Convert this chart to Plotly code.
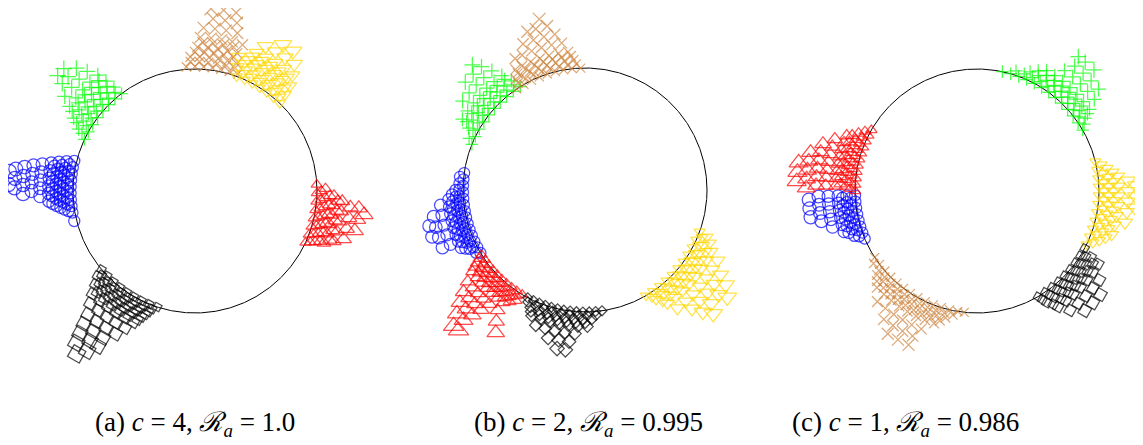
import numpy as np
import plotly.graph_objects as go

# ---------------- data: each cluster = rows of (norm r, [angles in degrees]) ----------------
# Panel (a)
A_BLUE = [(1.02, [166, 169, 172, 175, 178, 181, 184, 187, 190, 194]),
          (1.05, [168, 171, 174, 177, 180, 183, 186, 189]),
          (1.08, [167, 170, 173, 176, 179, 182, 185, 188]),
          (1.11, [169, 172, 175, 178, 181, 184, 187]),
          (1.14, [168, 171, 174, 177, 180, 183, 186]),
          (1.17, [170, 173, 176, 179, 182, 185]),
          (1.20, [169, 172, 175, 178, 181, 184]),
          (1.27, [170, 173, 176, 179, 182]),
          (1.34, [171, 174, 177, 180]),
          (1.41, [172, 175, 178, 181]),
          (1.48, [173, 176, 179]),
          (1.53, [174, 178])]
A_GREEN = [(1.00, [127, 131, 135, 139, 143, 147, 151, 155]),
           (1.04, [129, 133, 137, 141, 145, 149, 153]),
           (1.08, [128, 132, 136, 140, 144, 148, 152]),
           (1.12, [130, 134, 138, 142, 146, 150]),
           (1.16, [129, 133, 137, 141, 145, 149]),
           (1.20, [131, 135, 139, 143, 147]),
           (1.24, [130, 134, 138, 142, 146]),
           (1.32, [132, 136, 140, 144]),
           (1.40, [134, 138, 141]),
           (1.47, [137, 140])]
A_BROWN = [(1.02, [70, 74, 78, 82, 86, 90, 94]),
           (1.06, [72, 76, 80, 84, 88, 92]),
           (1.10, [72, 76, 80, 84, 88, 92]),
           (1.14, [74, 78, 82, 86, 90]),
           (1.18, [73, 77, 81, 85, 89]),
           (1.22, [75, 79, 83, 87]),
           (1.26, [72, 76, 80, 84, 88]),
           (1.34, [75, 79, 83, 87]),
           (1.42, [76, 80, 84]),
           (1.50, [77, 81, 85])]
A_YELLOW = [(1.00, [46, 50, 54, 58, 62, 66, 70]),
            (1.04, [48, 52, 56, 60, 64, 68]),
            (1.08, [47, 51, 55, 59, 63, 67, 71]),
            (1.12, [49, 53, 57, 61, 65, 69]),
            (1.16, [48, 52, 56, 60, 64, 68, 72]),
            (1.20, [51, 55, 59, 63, 67]),
            (1.24, [50, 54, 58, 62, 66]),
            (1.32, [52, 56, 60, 64]),
            (1.40, [55, 59])]
A_RED = [(1.00, [-25, -21, -17, -13, -9, -5, -1, 3]),
         (1.035, [-24, -20, -16, -12, -8, -4, 0]),
         (1.07, [-23, -19, -15, -11, -7, -3, 1]),
         (1.105, [-22, -18, -14, -10, -6, -2]),
         (1.14, [-22, -18, -14, -10, -6, -2]),
         (1.175, [-20, -16, -12, -8, -4]),
         (1.21, [-20, -16, -12, -8, -4]),
         (1.28, [-18, -14, -10, -6]),
         (1.35, [-14, -10, -6]),
         (1.40, [-8])]
A_BLACK = [(1.00, [220, 224, 228, 232, 236, 240, 244, 248, 252]),
           (1.03, [222, 226, 230, 234, 238, 242, 246, 250]),
           (1.06, [221, 225, 229, 233, 237, 241, 245, 249]),
           (1.09, [224, 228, 232, 236, 240, 244, 248]),
           (1.12, [223, 227, 231, 235, 239, 243, 247]),
           (1.155, [226, 230, 234, 238, 242, 246]),
           (1.19, [225, 229, 233, 237, 241, 245]),
           (1.26, [227, 231, 235, 239, 243]),
           (1.34, [229, 233, 237, 241]),
           (1.42, [230, 234, 238]),
           (1.50, [231, 235, 238]),
           (1.58, [232, 236]),
           (1.65, [234])]

# Panel (b)
B_BLUE = [(1.00, [172, 175, 178, 181, 184, 187, 190, 193, 196, 199, 202, 205, 208, 211]),
          (1.03, [174, 177, 180, 183, 186, 189, 192, 195, 198, 201, 204, 207, 210]),
          (1.06, [180, 183, 186, 189, 192, 195, 198, 201, 204, 207]),
          (1.09, [182, 185, 188, 191, 194, 197, 200, 203, 206]),
          (1.12, [184, 187, 190, 193, 196, 199, 202, 205]),
          (1.19, [186, 190, 194, 198, 202]),
          (1.26, [190, 194, 198, 202]),
          (1.31, [193, 197])]
B_GREEN = [(1.00, [122, 126, 130, 134, 138, 142, 146, 150, 154, 158]),
           (1.04, [124, 128, 132, 136, 140, 144, 148, 152, 156]),
           (1.08, [124, 128, 132, 136, 140, 144, 148, 152]),
           (1.12, [126, 130, 134, 138, 142, 146, 150]),
           (1.16, [126, 130, 134, 138, 142, 146, 150]),
           (1.24, [128, 132, 136, 140, 144]),
           (1.32, [130, 134, 138]),
           (1.38, [132])]
B_BROWN = [(1.00, [92, 96, 100, 104, 108, 112, 116, 120, 124]),
           (1.035, [94, 98, 102, 106, 110, 114, 118, 122]),
           (1.07, [95, 99, 103, 107, 111, 115, 119, 122]),
           (1.105, [96, 100, 104, 108, 112, 116, 120]),
           (1.14, [97, 101, 105, 109, 113, 117, 120]),
           (1.22, [99, 103, 107, 111, 115, 118]),
           (1.30, [101, 105, 109, 113]),
           (1.38, [103, 107, 110]),
           (1.45, [105])]
B_YELLOW = [(1.00, [-60, -56, -52, -48, -44, -40, -36, -32, -28, -24, -20]),
            (1.035, [-58, -54, -50, -46, -42, -38, -34, -30, -26, -22]),
            (1.07, [-57, -53, -49, -45, -41, -37, -33, -29, -25, -21]),
            (1.11, [-55, -51, -47, -43, -39, -35, -31, -27, -23]),
            (1.15, [-54, -50, -46, -42, -38, -34, -30, -26]),
            (1.23, [-52, -48, -44, -40, -36, -32, -28]),
            (1.31, [-48, -44, -40, -36, -32]),
            (1.39, [-46, -42, -38, -34]),
            (1.46, [-44, -37])]
B_RED = [(1.00, [212, 215, 218, 221, 224, 227, 230, 233, 236, 239]),
         (1.035, [213, 216, 219, 222, 225, 228, 231, 234, 237]),
         (1.07, [214, 217, 220, 223, 226, 229, 232, 235, 238]),
         (1.105, [215, 218, 221, 224, 227, 230, 233, 236]),
         (1.14, [216, 219, 222, 225, 228, 231, 234]),
         (1.22, [218, 221, 224, 227, 230, 234]),
         (1.30, [220, 223, 226, 229, 236]),
         (1.38, [222, 225, 228, 238]),
         (1.46, [224, 227]),
         (1.55, [226, 228])]
B_BLACK = [(1.00, [242, 245, 248, 251, 254, 257, 260, 263, 266, 269, 272, 275, 278]),
           (1.03, [243, 247, 251, 255, 259, 263, 267, 271, 275]),
           (1.06, [245, 249, 253, 257, 261, 265, 269, 273]),
           (1.09, [246, 250, 254, 258, 262, 266, 270]),
           (1.12, [247, 251, 255, 259, 263, 267, 271]),
           (1.18, [250, 254, 258, 262, 266]),
           (1.25, [256, 260, 264]),
           (1.32, [260, 263])]

# Panel (c)
C_BLUE = [(1.00, [182, 185, 188, 191, 194, 197, 200, 203]),
          (1.035, [183, 186, 189, 192, 195, 198, 201]),
          (1.07, [182, 185, 188, 191, 194, 197, 200]),
          (1.105, [183, 186, 189, 192, 195, 198]),
          (1.14, [182, 185, 188, 191, 194, 197]),
          (1.22, [182, 185, 188, 191, 194]),
          (1.30, [182, 185, 188, 191]),
          (1.38, [183, 186, 189])]
C_GREEN = [(1.00, [30, 34, 38, 42, 46, 50, 54, 58, 62, 66, 70, 74, 78]),
           (1.035, [32, 36, 40, 44, 48, 52, 56, 60, 64, 68, 72]),
           (1.07, [34, 38, 42, 46, 50, 54, 58, 62, 66]),
           (1.105, [35, 39, 43, 47, 51, 55, 59, 63]),
           (1.14, [36, 40, 44, 48, 52, 56, 60]),
           (1.22, [38, 42, 46, 50, 54]),
           (1.30, [40, 44, 48, 52]),
           (1.38, [46, 50, 53])]
C_BROWN = [(1.00, [213, 217, 221, 225, 229, 233, 237, 241, 245, 249, 253, 257, 261, 264]),
           (1.035, [215, 219, 223, 227, 231, 235, 239, 243, 247, 251, 255, 259]),
           (1.07, [220, 224, 228, 232, 236, 240, 244, 248, 252, 256]),
           (1.105, [222, 226, 230, 234, 238, 242, 246, 250, 254]),
           (1.14, [224, 228, 232, 236, 240, 244, 248, 252]),
           (1.22, [228, 232, 236, 240, 244, 248]),
           (1.30, [234, 238, 242, 246]),
           (1.38, [238, 242, 246])]
C_YELLOW = [(1.00, [-26, -22, -18, -14, -10, -6, -2, 2, 6, 10, 14]),
            (1.04, [-24, -20, -16, -12, -8, -4, 0, 4, 8, 12]),
            (1.08, [-22, -18, -14, -10, -6, -2, 2, 6, 10]),
            (1.12, [-20, -16, -12, -8, -4, 0, 4, 8]),
            (1.16, [-18, -14, -10, -6, -2, 2, 6]),
            (1.24, [-12, -8, -4, 0, 4]),
            (1.30, [-6, -2, 2])]
C_RED = [(1.00, [150, 153, 156, 159, 162, 165, 168, 171, 174, 177, 180]),
         (1.04, [152, 155, 158, 161, 164, 167, 170, 173, 176, 179]),
         (1.08, [154, 157, 160, 163, 166, 169, 172, 175, 178]),
         (1.12, [156, 159, 162, 165, 168, 171, 174, 177]),
         (1.16, [157, 160, 163, 166, 169, 172, 175, 178]),
         (1.24, [160, 163, 166, 169, 172, 175, 178]),
         (1.32, [163, 166, 169, 172, 175, 178]),
         (1.40, [167, 170, 173, 176, 179]),
         (1.48, [171, 174, 177])]
C_BLACK = [(1.00, [-60, -56, -52, -48, -44, -40, -36, -32, -28]),
           (1.04, [-59, -55, -51, -47, -43, -39, -35, -31]),
           (1.08, [-58, -54, -50, -46, -42, -38, -34, -30]),
           (1.12, [-56, -52, -48, -44, -40, -36, -32]),
           (1.16, [-55, -51, -47, -43, -39, -35, -31]),
           (1.24, [-52, -48, -44, -40, -36]),
           (1.32, [-48, -44, -40])]

CAPTIONS = ["(a) <i>c</i> = 4, <i>ℛ</i><sub><i>a</i></sub> = 1.0",
            "(b) <i>c</i> = 2, <i>ℛ</i><sub><i>a</i></sub> = 0.995",
            "(c) <i>c</i> = 1, <i>ℛ</i><sub><i>a</i></sub> = 0.986"]

PANELS = [
    [("blue", A_BLUE), ("green", A_GREEN), ("brown", A_BROWN), ("yellow", A_YELLOW), ("red", A_RED), ("black", A_BLACK)],
    [("blue", B_BLUE), ("green", B_GREEN), ("brown", B_BROWN), ("yellow", B_YELLOW), ("red", B_RED), ("black", B_BLACK)],
    [("blue", C_BLUE), ("green", C_GREEN), ("brown", C_BROWN), ("yellow", C_YELLOW), ("red", C_RED), ("black", C_BLACK)],
]

# ---------------- styles ----------------
COLOR = {"blue": "#0000FF", "red": "#FF0000", "green": "#00FF00", "black": "#000000",
         "yellow": "#FFD700", "brown": "#CD853F"}
SYMBOL = {"blue": "circle-open", "red": "triangle-up-open", "green": "cross-thin-open",
          "black": "square-open", "yellow": "triangle-down-open", "brown": "x-thin-open"}
SIZE_BASE = {"blue": 11, "red": 10, "green": 9, "black": 7, "yellow": 10, "brown": 9}
SIZE_GAIN = {"blue": 6, "red": 14, "green": 6, "black": 10, "yellow": 14, "brown": 8}
BLACK_ANGLE = [30, 45, 30]

# page is offset by the browser's default 8px body margin
OFF = 8
PAGE_W, PAGE_H = 1143, 445
W, H = PAGE_W - OFF, PAGE_H - OFF
RPX = 122.0
# panel pixel boxes in page coordinates: (x0, x1, centre x); common y box with centre y
PX = [(8, 385, 195), (390, 780, 585), (780, 1143, 977)]
CY = [191, 190, 191]
YB = 380
CAP_X = [195, 588, 905]
CAP_Y = 424

fig = go.Figure()
ring = np.linspace(0, 2 * np.pi, 721)

for i, panel in enumerate(PANELS):
    xa = "x" if i == 0 else f"x{i+1}"
    ya = "y" if i == 0 else f"y{i+1}"
    fig.add_trace(go.Scatter(x=np.cos(ring), y=np.sin(ring), mode="lines",
                             line=dict(color="black", width=1), xaxis=xa, yaxis=ya,
                             hoverinfo="skip", showlegend=False))
    for name, rows in panel:
        th, rr = [], []
        for r, angs in rows:
            for a in angs:
                th.append(a)
                rr.append(r)
        th = np.radians(np.array(th, dtype=float))
        rr = np.array(rr, dtype=float)
        sizes = SIZE_BASE[name] + SIZE_GAIN[name] * (rr - 1.0)
        marker = dict(symbol=SYMBOL[name], color=COLOR[name], size=sizes,
                      line=dict(color=COLOR[name], width=1.25))
        if name == "black":
            marker["angle"] = BLACK_ANGLE[i]
        fig.add_trace(go.Scatter(x=rr * np.cos(th), y=rr * np.sin(th), mode="markers",
                                 marker=marker, xaxis=xa, yaxis=ya, cliponaxis=False,
                                 showlegend=False, hoverinfo="skip"))

layout = dict(width=W, height=H, margin=dict(l=0, r=0, t=0, b=0),
              paper_bgcolor="white", plot_bgcolor="white", showlegend=False)
for i, (x0, x1, cx) in enumerate(PX):
    sfx = "" if i == 0 else str(i + 1)
    layout["xaxis" + sfx] = dict(domain=[(x0 - OFF) / W, (x1 - OFF) / W],
                                 range=[-(cx - x0) / RPX, (x1 - cx) / RPX],
                                 visible=False, fixedrange=True)
    layout["yaxis" + sfx] = dict(domain=[1 - (YB - OFF) / H, 1],
                                 range=[-(YB - CY[i]) / RPX, (CY[i] - OFF) / RPX],
                                 visible=False, fixedrange=True)
fig.update_layout(**layout)

for i, txt in enumerate(CAPTIONS):
    fig.add_annotation(text=txt, xref="paper", yref="paper",
                       x=(CAP_X[i] - OFF) / W, y=1 - (CAP_Y - OFF) / H,
                       xanchor="center", yanchor="middle", showarrow=False,
                       font=dict(family="Liberation Serif, Times New Roman, serif", size=27, color="black"))

fig.write_html("out.html")
